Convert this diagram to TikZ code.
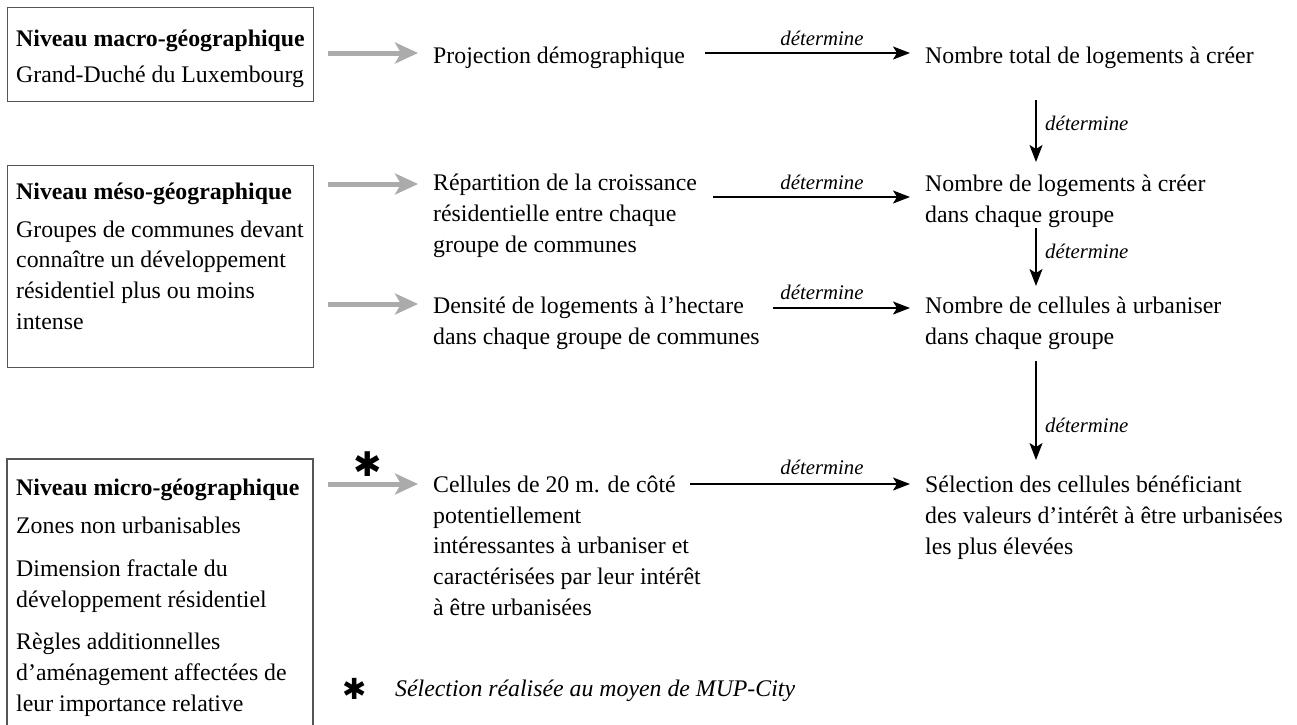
\documentclass[tikz,border=0pt]{standalone}
\usepackage{fontspec}
\setmainfont{Liberation Serif}
\newfontfamily\symfont{DejaVu Sans}
\usetikzlibrary{arrows.meta}
\definecolor{arrgray}{HTML}{ABABAB}
\definecolor{boxgray}{HTML}{555555}
\begin{document}
\begin{tikzpicture}[x=1pt,y=-1pt,
  txt/.style={anchor=base west, inner sep=0pt, align=left, font=\fontsize{23.8}{30.6}\selectfont},
  ttl/.style={anchor=base west, inner sep=0pt, align=left, font=\fontsize{23.8}{30.6}\selectfont\bfseries},
  lbl/.style={anchor=base, inner sep=0pt, font=\fontsize{20.8}{25}\selectfont\itshape},
  vlbl/.style={anchor=base west, inner sep=0pt, font=\fontsize{20.8}{25}\selectfont\itshape},
  box/.style={draw=boxgray, line width=1.1pt},
  gry/.style={draw=arrgray, line width=5pt, -{Stealth[length=23pt, width=21pt, inset=6pt, fill=arrgray]}},
  blk/.style={draw=black, line width=1.5pt, -{Stealth[length=17pt, width=13pt, inset=4pt]}},
  star/.style={inner sep=0pt, font=\symfont\fontsize{34}{34}\selectfont}
]
\useasboundingbox[fill=white] (0,0) rectangle (1297,724);

% boxes
\node[box, anchor=north west, minimum width=306pt, minimum height=94pt, inner sep=0pt] (box1) at (7,7) {};
\node[box, anchor=north west, minimum width=306pt, minimum height=202pt, inner sep=0pt] (box2) at (7,165) {};
\draw[box] (7,740) -- (7,459) -- (313,459) -- (313,740);

% left texts (multi-line nodes are placed by the baseline of their last line)
\node[ttl] (b1t) at (16,46) {Niveau macro-géographique};
\node[txt] (b1a) at (16,82) {Grand-Duché du Luxembourg};
\node[ttl] (b2t) at (16,199) {Niveau méso-géographique};
\node[txt] (b2a) at (16,329) {Groupes de communes devant\\connaître un développement\\résidentiel plus ou moins\\intense};
\node[ttl] (b3t) at (16,495) {Niveau micro-géographique};
\node[txt] (b3a) at (16,533) {Zones non urbanisables};
\node[txt] (b3b) at (16,607) {Dimension fractale du\\développement résidentiel};
\node[txt] (b3c) at (16,711) {Règles additionnelles\\d’aménagement affectées de\\leur importance relative};

% middle texts
\node[txt] (proj) at (433,63) {Projection démographique};
\node[txt] (rep) at (433,252) {Répartition de la croissance\\résidentielle entre chaque\\groupe de communes};
\node[txt] (dens) at (433,344) {Densité de logements à l’hectare\\dans chaque groupe de communes};
\node[txt] (cell) at (433,615) {Cellules de 20 m. de côté\\potentiellement\\intéressantes à urbaniser et\\caractérisées par leur intérêt\\à être urbanisées};

% right texts
\node[txt] (nbtot) at (925,63) {Nombre total de logements à créer};
\node[txt] (nblog) at (925,222) {Nombre de logements à créer\\dans chaque groupe};
\node[txt] (nbcel) at (925,344) {Nombre de cellules à urbaniser\\dans chaque groupe};
\node[txt] (sel) at (925,554) {Sélection des cellules bénéficiant\\des valeurs d’intérêt à être urbanisées\\les plus élevées};

% gray arrows
\coordinate (g1) at (328,53);
\coordinate (g2) at (328,184);
\coordinate (g3) at (328,304);
\coordinate (g4) at (328,484);
\draw[gry, shorten >=15pt] (g1) -- (proj.west |- g1);
\draw[gry, shorten >=15pt] (g2) -- (rep.west |- g2);
\draw[gry, shorten >=15pt] (g3) -- (dens.west |- g3);
\draw[gry, shorten >=15pt] (g4) -- (cell.west |- g4);

% black horizontal arrows
\coordinate (h1) at (705,53);
\coordinate (h2) at (713,197);
\coordinate (h3) at (773,308);
\coordinate (h4) at (690,484);
\draw[blk, shorten >=15pt] (h1) -- (nbtot.west |- h1);
\draw[blk, shorten >=15pt] (h2) -- (nblog.west |- h2);
\draw[blk, shorten >=15pt] (h3) -- (nbcel.west |- h3);
\draw[blk, shorten >=15pt] (h4) -- (sel.west |- h4);
\node[lbl] (l1) at (822,45) {détermine};
\node[lbl] (l2) at (822,189) {détermine};
\node[lbl] (l3) at (822,299) {détermine};
\node[lbl] (l4) at (822,474) {détermine};

% vertical arrows
\coordinate (v1a) at (1036,100);
\coordinate (v1b) at (1036,162);
\coordinate (v2a) at (1036,228);
\coordinate (v2b) at (1036,286);
\coordinate (v3a) at (1036,361);
\coordinate (v3b) at (1036,460);
\draw[blk] (v1a) -- (v1b);
\draw[blk] (v2a) -- (v2b);
\draw[blk] (v3a) -- (v3b);
\node[vlbl] (l5) at (1045,130) {détermine};
\node[vlbl] (l6) at (1045,258) {détermine};
\node[vlbl] (l7) at (1045,432) {détermine};

% asterisks and footnote
\node[star] (s1) at (368,464) {✱};
\node[star, font=\symfont\fontsize{29}{29}\selectfont] (s2) at (355,689) {✱};
\node[anchor=base west, inner sep=0pt, font=\fontsize{23.8}{30}\selectfont\itshape] (foot) at (395,696) {Sélection réalisée au moyen de MUP-City};
\end{tikzpicture}
\end{document}
